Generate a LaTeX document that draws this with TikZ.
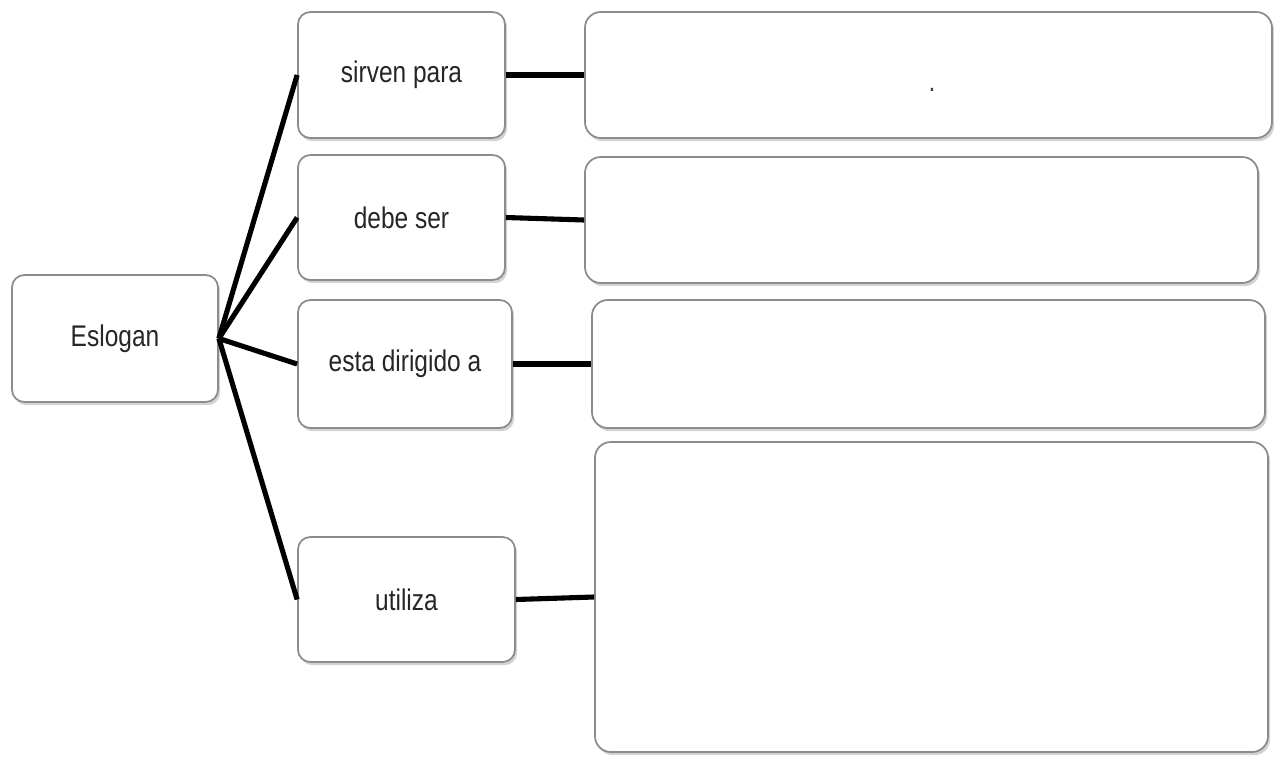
\documentclass[tikz,border=0pt]{standalone}
\usepackage{fontspec}
\setmainfont[FakeStretch=0.82]{Liberation Sans}
\usetikzlibrary{shadows}
\tikzstyle{link} = [line width=2.9pt, black]
\tikzstyle{block} = [rectangle, draw=black!45, line width=1pt, fill=white, text centered, rounded corners=7pt,
drop shadow={shadow xshift=1.2pt, shadow yshift=-1.8pt, opacity=0.35}, text=black!85]
\tikzstyle{answer} = [block, rounded corners=9pt]

\begin{document}
\begin{tikzpicture}[font=\fontsize{17}{20}\selectfont]
    \useasboundingbox (0,0) rectangle (25.48,-15.12);
    % Nodes
    \node[block, minimum width=4.12cm, minimum height=2.54cm] (eslogan)  at (2.30, -6.77) {Eslogan};
    \node[block, minimum width=4.14cm, minimum height=2.52cm] (sirven)   at (8.03, -1.50) {sirven para};
    \node[block, minimum width=4.14cm, minimum height=2.50cm] (debe)     at (8.03, -4.35) {debe ser};
    \node[block, minimum width=4.28cm, minimum height=2.56cm] (dirigido) at (8.10, -7.28) {esta dirigido a};
    \node[block, minimum width=4.34cm, minimum height=2.50cm] (utiliza)  at (8.13,-11.99) {utiliza};

    \node[answer, minimum width=13.74cm, minimum height=2.52cm] (para)    at (18.57, -1.50) {};
    \node[answer, minimum width=13.46cm, minimum height=2.52cm] (ser)     at (18.43, -4.40) {};
    \node[answer, minimum width=13.46cm, minimum height=2.56cm] (publico) at (18.57, -7.28) {};
    \node[answer, minimum width=13.46cm, minimum height=6.20cm] (recursos) at (18.63,-11.94) {};
    \node[inner sep=0pt, text=black!75] (punto) at (18.64, -1.80) {.};

    % Lines
    \draw[link] (eslogan.east) -- (sirven.west);
    \draw[link] (eslogan.east) -- (debe.west);
    \draw[link] (eslogan.east) -- (dirigido.west);
    \draw[link] (eslogan.east) -- (utiliza.west);
    \draw[link] (sirven.east) -- (para.west);
    \draw[link] (debe.east) -- (ser.west);
    \draw[link] (dirigido.east) -- (publico.west);
    \draw[link] (utiliza.east) -- (recursos.west);

\end{tikzpicture}
\end{document}
